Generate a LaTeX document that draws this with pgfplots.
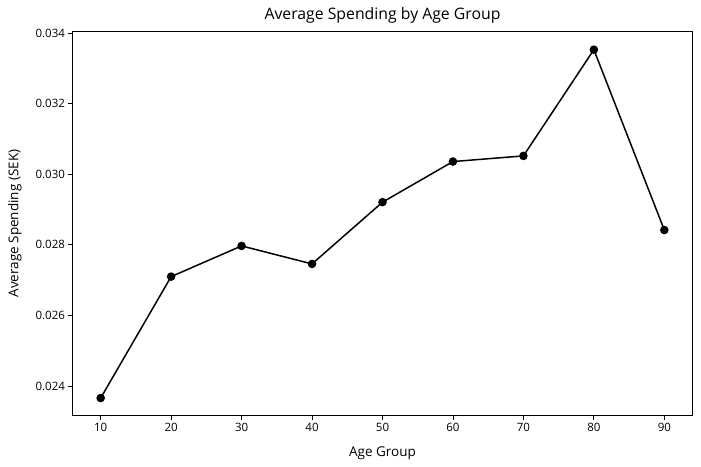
\documentclass[border=0pt]{standalone}
\usepackage{fontspec}
\setmainfont{Open Sans}
\usepackage{pgfplots}
\pgfplotsset{compat=1.18}
\begin{document}
\begin{tikzpicture}[x=1pt,y=1pt]
\begin{axis}[
  scale only axis,
  width=620pt, height=384pt,
  xmin=6, xmax=94,
  ymin=0.023165, ymax=0.034045,
  xtick={10,20,...,90},
  ytick={0.024,0.026,0.028,0.030,0.032,0.034},
  yticklabel style={/pgf/number format/.cd,fixed,fixed zerofill,precision=3},
  scaled y ticks=false,
  /pgf/number format/assume math mode=true,
  tick align=outside,
  tick pos=left,
  major tick length=4pt,
  every tick/.style={black, line width=0.8pt},
  axis line style={line width=0.8pt},
  ticklabel style={font=\fontsize{11.5}{13}\selectfont},
  title={Average Spending by Age Group},
  title style={font=\fontsize{15.8}{18}\selectfont, yshift=-1pt},
  xlabel={Age Group},
  ylabel={Average Spending (SEK)},
  label style={font=\fontsize{13.5}{15}\selectfont},
  xlabel style={yshift=-8pt},
  ylabel style={yshift=7pt},
]
\addplot[black, line width=1.5pt, mark=*, mark size=3.5pt] coordinates {
(10,0.02366) (20,0.02710) (30,0.02797) (40,0.02746) (50,0.02921)
(60,0.03036) (70,0.03052) (80,0.03353) (90,0.02842)
};
\end{axis}
\path ([xshift=-72.5pt,yshift=-51pt]current axis.south west) rectangle ([xshift=8.5pt,yshift=31.5pt]current axis.north east);
\end{tikzpicture}
\end{document}
